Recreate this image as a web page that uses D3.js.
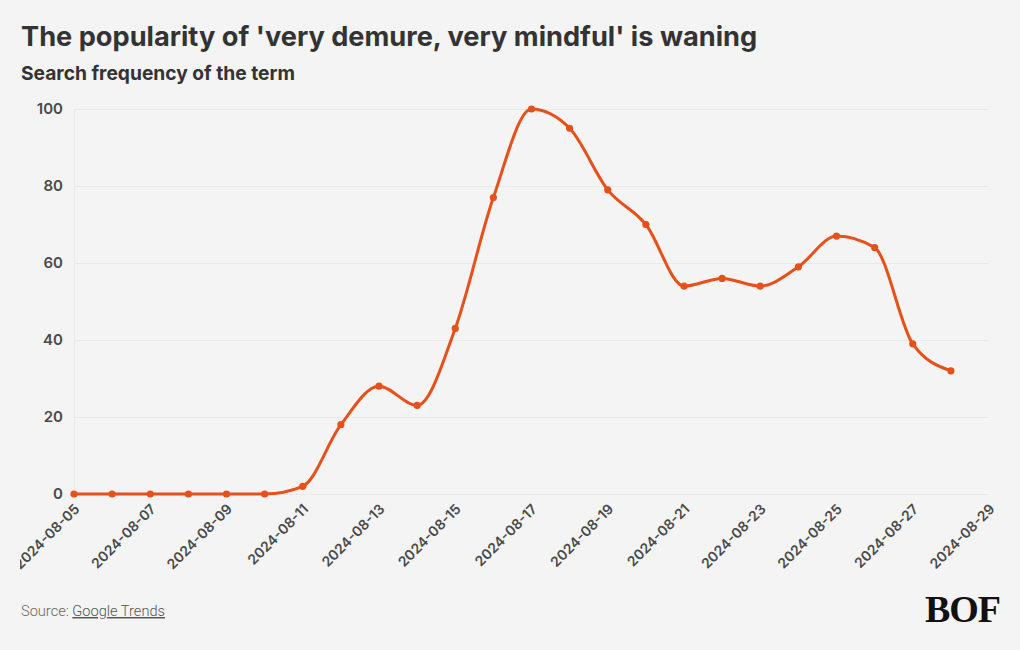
<!DOCTYPE html>
<html>
<head>
<meta charset="utf-8">
<script src="https://cdn.jsdelivr.net/npm/d3@7"></script>
<style>
  html, body { margin: 0; padding: 0; background: #f4f4f4; }
  svg { display: block; }
</style>
</head>
<body>
<svg id="chart" width="1020" height="650"></svg>
<script>
const dates = ["2024-08-05","2024-08-06","2024-08-07","2024-08-08","2024-08-09","2024-08-10","2024-08-11","2024-08-12","2024-08-13","2024-08-14","2024-08-15","2024-08-16","2024-08-17","2024-08-18","2024-08-19","2024-08-20","2024-08-21","2024-08-22","2024-08-23","2024-08-24","2024-08-25","2024-08-26","2024-08-27","2024-08-28"];
const values = [0,0,0,0,0,0,2,18,28,23,43,77,100,95,79,70,54,56,54,59,67,64,39,32];
const yTicks = [0,20,40,60,80,100];
const xTickLabels = ["2024-08-05","2024-08-07","2024-08-09","2024-08-11","2024-08-13","2024-08-15","2024-08-17","2024-08-19","2024-08-21","2024-08-23","2024-08-25","2024-08-27","2024-08-29"];
const title = "The popularity of 'very demure, very mindful' is waning";
const subtitle = "Search frequency of the term";

const parse = d3.utcParse("%Y-%m-%d");
const data = dates.map((d, i) => ({ date: parse(d), value: values[i] }));

const svg = d3.select("#chart");
svg.append("rect").attr("width", 1020).attr("height", 650).attr("fill", "#f4f4f4");

const defs = svg.append("defs");
defs.append("clipPath").attr("id", "lblclip").append("rect")
  .attr("x", 20).attr("y", 0).attr("width", 1000).attr("height", 650);

const mL = 74, mR = 989, mT = 109, mB = 494;
const x = d3.scaleUtc().domain([parse("2024-08-05"), parse("2024-08-29")]).range([mL, mR]);
const y = d3.scaleLinear().domain([0, 100]).range([mB, mT]);

const sans = "Inter, 'Noto Sans', sans-serif";

// Title
svg.append("text").attr("x", 21).attr("y", 46).text(title)
  .style("font-family", sans).attr("font-size", 27.2).attr("font-weight", 700).attr("fill", "#333333");
svg.append("text").attr("x", 21).attr("y", 80).text(subtitle)
  .style("font-family", sans).attr("font-size", 19.2).attr("font-weight", 700).attr("fill", "#333333");

// Gridlines + y axis
const yAxis = d3.axisLeft(y).tickValues(yTicks).tickSize(-(mR - mL)).tickPadding(11);
const gy = svg.append("g").attr("transform", `translate(${mL},0)`).call(yAxis);
gy.select(".domain").attr("stroke", "#ebebeb");
gy.selectAll(".tick line").attr("stroke", "#e9e9e9").attr("stroke-width", 1);
gy.selectAll(".tick text").attr("font-size", 15).attr("font-weight", 600).attr("fill", "#4a4a4a")
  .style("font-family", sans);

// X axis
const xAxis = d3.axisBottom(x).tickValues(xTickLabels.map(parse)).tickSize(0).tickFormat(d3.utcFormat("%Y-%m-%d"));
const gxWrap = svg.append("g").attr("clip-path", "url(#lblclip)");
const gx = gxWrap.append("g").attr("transform", `translate(0,${mB})`).call(xAxis);
gx.select(".domain").remove();
gx.selectAll(".tick text")
  .attr("font-size", 14).attr("font-weight", 600).attr("fill", "#4a4a4a")
  .style("font-family", sans)
  .attr("text-anchor", "end")
  .attr("dy", null)
  .attr("y", 0)
  .attr("transform", "translate(6,16) rotate(-45)");

// Line
const color = "#e8501a";
const line = d3.line().x(d => x(d.date)).y(d => y(d.value)).curve(d3.curveMonotoneX);
svg.append("path").datum(data).attr("d", line).attr("fill", "none")
  .attr("stroke", color).attr("stroke-width", 3).attr("stroke-linejoin", "round").attr("stroke-linecap", "round");
svg.append("g").selectAll("circle").data(data).join("circle")
  .attr("cx", d => x(d.date)).attr("cy", d => y(d.value)).attr("r", 3.6).attr("fill", color);

// Source
const src = svg.append("text").attr("x", 21).attr("y", 616).attr("font-size", 14.6).attr("fill", "#666666")
  .style("font-family", "Roboto, sans-serif").attr("font-weight", 300);
src.append("tspan").text("Source: ");
src.append("tspan").text("Google Trends").attr("text-decoration", "underline").attr("fill", "#555555");

// Logo
svg.append("text").attr("x", 1000).attr("y", 622).attr("text-anchor", "end")
  .style("font-family", "'Liberation Serif', 'DejaVu Serif', serif").attr("font-weight", 700)
  .attr("font-size", 38).attr("fill", "#111111").attr("letter-spacing", "-1").text("BOF");
</script>
</body>
</html>
